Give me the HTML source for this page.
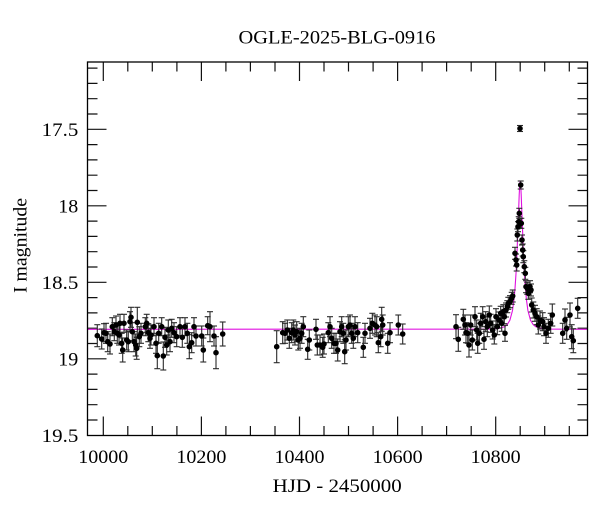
<!DOCTYPE html>
<html>
<head>
<meta charset="utf-8">
<style>
html,body{margin:0;padding:0;background:#fff;}
svg{display:block;}
text{font-family:"Liberation Serif","DejaVu Serif",serif;fill:#000;}
</style>
</head>
<body>
<svg width="600" height="512" viewBox="0 0 600 512" xmlns="http://www.w3.org/2000/svg">
<defs>
<marker id="cap" markerUnits="userSpaceOnUse" markerWidth="8" markerHeight="4" refX="4" refY="2" orient="0" overflow="visible">
<path d="M1,2h6" stroke="#2a2a2a" stroke-width="1.1" fill="none"/>
</marker>
</defs>
<rect width="600" height="512" fill="#fff"/>
<text x="337" y="43.3" font-size="18.5" text-anchor="middle" textLength="197" lengthAdjust="spacingAndGlyphs">OGLE-2025-BLG-0916</text>
<text x="337.2" y="492" font-size="18.5" text-anchor="middle" textLength="129" lengthAdjust="spacingAndGlyphs">HJD - 2450000</text>
<text transform="translate(26.7,245.5) rotate(-90)" font-size="18.5" text-anchor="middle" textLength="95" lengthAdjust="spacingAndGlyphs">I magnitude</text>
<g font-size="18.5" text-anchor="middle">
<text x="103.3" y="463" textLength="50" lengthAdjust="spacingAndGlyphs">10000</text>
<text x="201.4" y="463" textLength="50" lengthAdjust="spacingAndGlyphs">10200</text>
<text x="299.5" y="463" textLength="50" lengthAdjust="spacingAndGlyphs">10400</text>
<text x="397.6" y="463" textLength="50" lengthAdjust="spacingAndGlyphs">10600</text>
<text x="495.7" y="463" textLength="50" lengthAdjust="spacingAndGlyphs">10800</text>
</g>
<g font-size="18.5" text-anchor="end">
<text x="78.3" y="136" textLength="36.6" lengthAdjust="spacingAndGlyphs">17.5</text>
<text x="78.3" y="212.5" textLength="20" lengthAdjust="spacingAndGlyphs">18</text>
<text x="78.3" y="289" textLength="36.6" lengthAdjust="spacingAndGlyphs">18.5</text>
<text x="78.3" y="365.5" textLength="20" lengthAdjust="spacingAndGlyphs">19</text>
<text x="78.3" y="442" textLength="36.6" lengthAdjust="spacingAndGlyphs">19.5</text>
</g>
<g stroke="#111" stroke-width="1.2" fill="none">
<path d="M87.5,129.3h19M87.5,205.8h19M87.5,282.3h19M87.5,358.8h19M587.5,129.3h-19M587.5,205.8h-19M587.5,282.3h-19M587.5,358.8h-19"/>
<path d="M87.5,68.1h10M87.5,83.4h10M87.5,98.7h10M87.5,114h10M87.5,144.6h10M87.5,159.9h10M87.5,175.2h10M87.5,190.5h10M87.5,221.1h10M87.5,236.4h10M87.5,251.7h10M87.5,267h10M87.5,297.6h10M87.5,312.9h10M87.5,328.2h10M87.5,343.5h10M87.5,374.1h10M87.5,389.4h10M87.5,404.7h10M87.5,420h10"/>
<path d="M587.5,68.1h-10M587.5,83.4h-10M587.5,98.7h-10M587.5,114h-10M587.5,144.6h-10M587.5,159.9h-10M587.5,175.2h-10M587.5,190.5h-10M587.5,221.1h-10M587.5,236.4h-10M587.5,251.7h-10M587.5,267h-10M587.5,297.6h-10M587.5,312.9h-10M587.5,328.2h-10M587.5,343.5h-10M587.5,374.1h-10M587.5,389.4h-10M587.5,404.7h-10M587.5,420h-10"/>
<path d="M103.3,435.5v-19M201.4,435.5v-19M299.5,435.5v-19M397.6,435.5v-19M495.7,435.5v-19M103.3,62v19M201.4,62v19M299.5,62v19M397.6,62v19M495.7,62v19"/>
<path d="M127.8,435.5v-9.5M152.3,435.5v-9.5M176.9,435.5v-9.5M225.9,435.5v-9.5M250.4,435.5v-9.5M275,435.5v-9.5M324,435.5v-9.5M348.5,435.5v-9.5M373.1,435.5v-9.5M422.1,435.5v-9.5M446.6,435.5v-9.5M471.2,435.5v-9.5M520.2,435.5v-9.5M544.7,435.5v-9.5M569.3,435.5v-9.5"/>
<path d="M127.8,62v9.5M152.3,62v9.5M176.9,62v9.5M225.9,62v9.5M250.4,62v9.5M275,62v9.5M324,62v9.5M348.5,62v9.5M373.1,62v9.5M422.1,62v9.5M446.6,62v9.5M471.2,62v9.5M520.2,62v9.5M544.7,62v9.5M569.3,62v9.5"/>
</g>
<path fill="none" stroke="#e010e0" stroke-width="1.1" d="M87.5,329.3L489.3,329.1L499.6,328.3L504.75,326.6L507.3,324.5L509.9,320.2L512.5,310.5L514,299.3L515.05,287.9L516.1,272L516.6,262L517.1,250.3L517.6,237.2L518.1,222.9L518.7,208.3L519.2,194.9L519.7,185.1L520.2,181L520.7,185.1L521.2,194.9L521.7,208.3L522.3,222.9L522.8,237.2L523.3,250.3L523.8,262L524.3,272L525.35,287.9L526.4,299.3L527.9,310.5L530.5,320.2L533.1,324.5L535.65,326.6L540.8,328.3L551.1,329.1L587.5,329.3"/>
<path fill="none" stroke="#2a2a2a" stroke-width="1.1" marker-start="url(#cap)" marker-mid="url(#cap)" marker-end="url(#cap)" d="M97.3,324.7V346.7M101.7,329V349M104,323.7V341.7M106,323.3V343.3M107.7,331.7V351.7M110,334V354M112.3,317.7V335.7M114.3,322.7V340.7M116,316V334M117.3,323.3V343.3M119,325V345M120,314.3V332.3M121.7,333.3V353.3M122.7,338V362M124,314.3V332.3M126.7,330V350M128.3,331.7V351.7M130,311.7V331.7M131,307.3V327.3M132.3,322.7V340.7M134,331.7V351.7M135.7,334V356M136.7,337.3V359.3M137.3,307.3V337.3M139.3,326.7V346.7M141,323.3V343.3M145.3,317.7V335.7M146.7,314.3V332.3M148.3,323.7V341.7M150,328.3V348.3M151,325V345M154,317.7V335.7M156,333.3V353.3M157.3,342.7V368.7M158.7,323.3V343.3M161.7,317.7V335.7M163.3,342V370M165,327.3V347.3M166.7,335V355M168.3,320V340M170,331.7V351.7M171.7,319.3V337.3M174,322.7V342.7M176.7,326.7V346.7M180,317.7V335.7M182.3,327.3V347.3M185,317.7V335.7M187.3,323.3V343.3M189.3,334.7V358.7M191.7,332.7V352.7M194,317.7V335.7M196,326V346M201.7,326V346M203.3,338V362M207.7,316.7V334.7M210,311.7V341.7M214,326V346M216,336.7V368.7M222.7,322V346M276.7,330.7V362.7M282.7,321.7V343.7M285,323.3V343.3M287.3,320V340M289.3,328.3V348.3M291.7,322.7V342.7M293.3,320V340M295,325V345M296.7,321.7V341.7M298.3,330V350M300,328.3V348.3M301.7,323.3V343.3M303.3,316.7V336.7M307.7,339.3V359.3M309.3,330V350M316,319.3V339.3M317.3,335V355M320,335V355M322.7,337.3V357.3M324,334V354M328.3,322.7V342.7M330,316.7V336.7M331.7,328.3V348.3M334,333.3V353.3M336,333.3V353.3M337.7,339V361M340,321.7V341.7M341.7,316.7V336.7M343.3,323.3V343.3M344.7,339.7V363.7M346,330V350M348.3,316.7V336.7M350,315V335M351.7,323.3V343.3M353.3,328.3V348.3M355,316.7V336.7M357.7,322.7V342.7M363.3,337.3V357.3M365,323.3V343.3M370,318.3V338.3M372.3,313.3V333.3M375,315V335M376.7,316.7V336.7M378.3,332.7V352.7M380.7,326.7V346.7M381.7,307.3V331.3M382.7,315V335M387.7,333.3V353.3M390,322.7V342.7M398.3,315V335M402.7,324V344M456,314.7V338.7M458.3,327.3V351.3M463.3,309.3V329.3M465,315V335M466,322.7V342.7M467.7,323.3V343.3M469,333V357M470.7,315V335M472.3,330V350M475,306.7V326.7M476.7,320V340M477.7,333.3V353.3M479.3,323.3V343.3M480.7,313.3V333.3M482.7,306.7V326.7M484,329.3V349.3M485.7,311.7V331.7M487.3,316.7V336.7M489.3,306V324M490.7,314.3V332.3M492.7,321V339M494.3,326V344M496,308.7V324.7M497.3,318.7V334.7M499,312V328M500.7,306.3V320.3M501.7,315.3V331.3M503.3,304.7V318.7M504.3,309.7V323.7M505,325.3V341.3M506,303V317M507.3,300.7V312.7M508.3,297.3V309.3M510,295.7V307.7M511.7,292.3V304.3M512.7,290V302M515,247.3V259.3M516,254V266M516.7,259V271M517.3,229V241M518,221.7V231.7M518.7,216.7V226.7M519.3,208.3V218.3M520,218.3V228.3M520.7,181V189M521.3,218.3V228.3M522,235V245M522.7,244V256M523.3,250.7V262.7M524.3,260.7V272.7M525.3,267.3V279.3M526,280.7V292.7M527.3,282.3V294.3M528.3,287.3V299.3M530,280.7V292.7M531,284V296M520,125.5V131.5M531.7,298V312M533.3,302V318M535,305.3V321.3M536.7,308.7V324.7M538.3,316V334M540,311V329M542.7,312.7V330.7M544,317.7V335.7M546,323.3V343.3M548.3,319.3V337.3M550.7,313.3V333.3M552.3,304V326M562.7,323.3V343.3M565,309V331M566.7,317.3V339.3M570,303V327M571.7,324.7V348.7M573.3,328.7V352.7M577.7,298.3V318.3"/>
<path fill="none" stroke="#000" stroke-width="5.6" stroke-linecap="round" d="M97.3,335.7h0M101.7,339h0M104,332.7h0M106,333.3h0M107.7,341.7h0M110,344h0M112.3,326.7h0M114.3,331.7h0M116,325h0M117.3,333.3h0M119,335h0M120,323.3h0M121.7,343.3h0M122.7,350h0M124,323.3h0M126.7,340h0M128.3,341.7h0M130,321.7h0M131,317.3h0M132.3,331.7h0M134,341.7h0M135.7,345h0M136.7,348.3h0M137.3,322.3h0M139.3,336.7h0M141,333.3h0M145.3,326.7h0M146.7,323.3h0M148.3,332.7h0M150,338.3h0M151,335h0M154,326.7h0M156,343.3h0M157.3,355.7h0M158.7,333.3h0M161.7,326.7h0M163.3,356h0M165,337.3h0M166.7,345h0M168.3,330h0M170,341.7h0M171.7,328.3h0M174,332.7h0M176.7,336.7h0M180,326.7h0M182.3,337.3h0M185,326.7h0M187.3,333.3h0M189.3,346.7h0M191.7,342.7h0M194,326.7h0M196,336h0M201.7,336h0M203.3,350h0M207.7,325.7h0M210,326.7h0M214,336h0M216,352.7h0M222.7,334h0M276.7,346.7h0M282.7,332.7h0M285,333.3h0M287.3,330h0M289.3,338.3h0M291.7,332.7h0M293.3,330h0M295,335h0M296.7,331.7h0M298.3,340h0M300,338.3h0M301.7,333.3h0M303.3,326.7h0M307.7,349.3h0M309.3,340h0M316,329.3h0M317.3,345h0M320,345h0M322.7,347.3h0M324,344h0M328.3,332.7h0M330,326.7h0M331.7,338.3h0M334,343.3h0M336,343.3h0M337.7,350h0M340,331.7h0M341.7,326.7h0M343.3,333.3h0M344.7,351.7h0M346,340h0M348.3,326.7h0M350,325h0M351.7,333.3h0M353.3,338.3h0M355,326.7h0M357.7,332.7h0M363.3,347.3h0M365,333.3h0M370,328.3h0M372.3,323.3h0M375,325h0M376.7,326.7h0M378.3,342.7h0M380.7,336.7h0M381.7,319.3h0M382.7,325h0M387.7,343.3h0M390,332.7h0M398.3,325h0M402.7,334h0M456,326.7h0M458.3,339.3h0M463.3,319.3h0M465,325h0M466,332.7h0M467.7,333.3h0M469,345h0M470.7,325h0M472.3,340h0M475,316.7h0M476.7,330h0M477.7,343.3h0M479.3,333.3h0M480.7,323.3h0M482.7,316.7h0M484,339.3h0M485.7,321.7h0M487.3,326.7h0M489.3,315h0M490.7,323.3h0M492.7,330h0M494.3,335h0M496,316.7h0M497.3,326.7h0M499,320h0M500.7,313.3h0M501.7,323.3h0M503.3,311.7h0M504.3,316.7h0M505,333.3h0M506,310h0M507.3,306.7h0M508.3,303.3h0M510,301.7h0M511.7,298.3h0M512.7,296h0M515,253.3h0M516,260h0M516.7,265h0M517.3,235h0M518,226.7h0M518.7,221.7h0M519.3,213.3h0M520,223.3h0M520.7,185h0M521.3,223.3h0M522,240h0M522.7,250h0M523.3,256.7h0M524.3,266.7h0M525.3,273.3h0M526,286.7h0M527.3,288.3h0M528.3,293.3h0M530,286.7h0M531,290h0M520,128.5h0M531.7,305h0M533.3,310h0M535,313.3h0M536.7,316.7h0M538.3,325h0M540,320h0M542.7,321.7h0M544,326.7h0M546,333.3h0M548.3,328.3h0M550.7,323.3h0M552.3,315h0M562.7,333.3h0M565,320h0M566.7,328.3h0M570,315h0M571.7,336.7h0M573.3,340.7h0M577.7,308.3h0"/>
<rect x="87.5" y="62" width="500" height="373.5" fill="none" stroke="#000" stroke-width="1.3"/>
</svg>
</body>
</html>
